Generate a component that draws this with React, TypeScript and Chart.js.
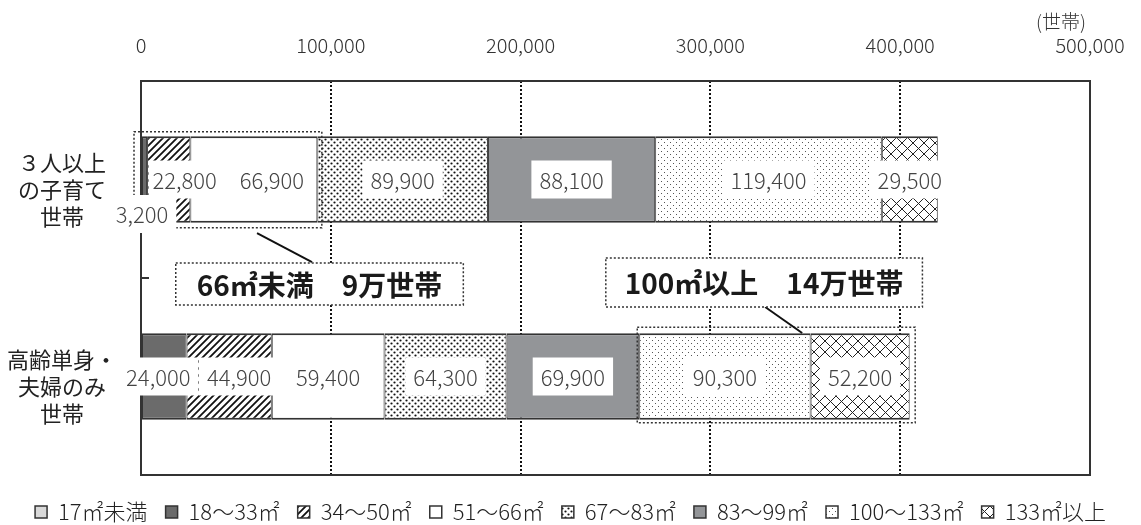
import React, { useEffect, useRef } from 'react';
import { Chart, registerables } from 'chart.js';

Chart.register(...registerables);

// ---------- data ----------
const categories = [
  ['３人以上', 'の子育て', '世帯'],
  ['高齢単身・', '夫婦のみ', '世帯'],
];
const seriesNames = ['17㎡未満', '18～33㎡', '34～50㎡', '51～66㎡', '67～83㎡', '83～99㎡', '100～133㎡', '133㎡以上'];
const under17 = [0, 0];
const s18to33 = [3200, 24000];
const s34to50 = [22800, 44900];
const s51to66 = [66900, 59400];
const s67to83 = [89900, 64300];
const s83to99 = [88100, 69900];
const s100to133 = [119400, 90300];
const over133 = [29500, 52200];
const xMin = 0;
const xMax = 500000;
const xStep = 100000;
const unitLabel = '(世帯)';
const callout1Text = '66㎡未満　9万世帯';
const callout2Text = '100㎡以上　14万世帯';

const FONT = '"Noto Sans CJK JP", "Noto Sans", sans-serif';

// ---------- patterns ----------
function makePattern(size: number, draw: (g: CanvasRenderingContext2D, s: number) => void): CanvasPattern | string {
  const c = document.createElement('canvas');
  c.width = size;
  c.height = size;
  const g = c.getContext('2d');
  if (!g) return '#fff';
  g.fillStyle = '#ffffff';
  g.fillRect(0, 0, size, size);
  draw(g, size);
  return g.createPattern(c, 'repeat') || '#fff';
}

function buildFills() {
  const hatch = makePattern(7, (g, s) => {
    g.strokeStyle = '#111';
    g.lineWidth = 1.8;
    g.beginPath();
    g.moveTo(-1, 1); g.lineTo(1, -1);
    g.moveTo(0, s); g.lineTo(s, 0);
    g.moveTo(s - 1, s + 1); g.lineTo(s + 1, s - 1);
    g.stroke();
  });
  const denseDots = makePattern(6, (g) => {
    g.fillStyle = '#111';
    g.beginPath(); g.arc(1.5, 1.5, 1.1, 0, Math.PI * 2); g.fill();
    g.beginPath(); g.arc(4.5, 4.5, 1.1, 0, Math.PI * 2); g.fill();
  });
  const lightDots = makePattern(6, (g) => {
    g.fillStyle = '#555';
    g.fillRect(1, 1, 1, 1);
    g.fillRect(4, 4, 1, 1);
  });
  const cross = makePattern(11, (g, s) => {
    g.strokeStyle = '#222';
    g.lineWidth = 1;
    g.beginPath();
    g.moveTo(-1, -1); g.lineTo(s + 1, s + 1);
    g.moveTo(-1, s + 1); g.lineTo(s + 1, -1);
    g.stroke();
  });
  return ['#d9d9d9', '#6b6b6b', hatch, '#ffffff', denseDots, '#939598', lightDots, cross];
}

// ---------- annotation styling ----------
const labelOffsets: Record<string, { dx?: number; dy?: number; padL?: number; padR?: number }> = {
  '1-0': { dx: -2.5, dy: 34.5 },
  '2-0': { dx: 16, padL: 4 },
  '3-0': { dx: 18 },
  '1-1': { dx: -6 },
  '2-1': { dx: 10 },
};

const groupRects = [
  { index: 0, datasets: [1, 2, 3], m: { l: 8, r: 4.5, t: 4.5, b: 5 } },
  { index: 1, datasets: [6, 7], m: { l: 2, r: 5.5, t: 6, b: 3 } },
];

const callouts = [
  { text: callout1Text, cx: 94070, cy: 0.53, padX: 21, h: 42, from: [61130, 0.272], to: [90120, 0.419] },
  { text: callout2Text, cx: 328300, cy: 0.523, padX: 19, h: 49, from: [328850, 0.647], to: [348350, 0.779] },
];

const overlayPlugin = {
  id: 'overlay',
  afterDatasetsDraw(chart: any) {
    const { ctx, chartArea: a, scales } = chart;
    const x = scales.x;
    const y = scales.y;
    ctx.save();

    // frame
    ctx.setLineDash([]);
    ctx.strokeStyle = '#333';
    ctx.lineWidth = 2;
    ctx.strokeRect(a.left, a.top, a.right - a.left, a.bottom - a.top);
    // category boundary tick
    const mid = (y.getPixelForValue(0) + y.getPixelForValue(1)) / 2;
    ctx.beginPath();
    ctx.moveTo(a.left, mid);
    ctx.lineTo(a.left + 8, mid);
    ctx.stroke();

    // dotted rectangles around groups
    ctx.setLineDash([2, 2]);
    ctx.lineWidth = 1.5;
    ctx.strokeStyle = '#333';
    groupRects.forEach((gr) => {
      let l = Infinity, r = -Infinity, t = Infinity, b = -Infinity;
      gr.datasets.forEach((d) => {
        const el = chart.getDatasetMeta(d).data[gr.index];
        const p = el.getProps(['x', 'y', 'base', 'height'], true);
        l = Math.min(l, p.base, p.x);
        r = Math.max(r, p.base, p.x);
        t = Math.min(t, p.y - p.height / 2);
        b = Math.max(b, p.y + p.height / 2);
      });
      ctx.strokeRect(l - gr.m.l, t - gr.m.t, r - l + gr.m.l + gr.m.r, b - t + gr.m.t + gr.m.b);
    });
    ctx.setLineDash([]);

    // value labels
    ctx.font = `300 22px ${FONT}`;
    ctx.textAlign = 'center';
    ctx.textBaseline = 'middle';
    const items: { tx: number; ty: number; text: string; w: number; padL: number; padR: number }[] = [];
    chart.data.datasets.forEach((ds: any, d: number) => {
      ds.data.forEach((v: number, j: number) => {
        if (!v) return;
        const el = chart.getDatasetMeta(d).data[j];
        const p = el.getProps(['x', 'y', 'base'], true);
        const o = labelOffsets[`${d}-${j}`] || {};
        const text = v.toLocaleString('en-US');
        const w = ctx.measureText(text).width;
        items.push({
          tx: (p.x + p.base) / 2 + (o.dx || 0),
          ty: p.y + (o.dy || 0),
          text,
          w,
          padL: o.padL ?? 8,
          padR: o.padR ?? 8,
        });
      });
    });
    ctx.fillStyle = '#ffffff';
    items.forEach((it) => {
      ctx.fillRect(it.tx - it.w / 2 - it.padL, it.ty - 19, it.w + it.padL + it.padR, 38);
    });
    ctx.fillStyle = '#444';
    items.forEach((it) => {
      ctx.fillText(it.text, it.tx, it.ty + 1);
    });

    // callouts
    callouts.forEach((c) => {
      ctx.font = `bold 28px ${FONT}`;
      const tw = ctx.measureText(c.text).width;
      const cx = x.getPixelForValue(c.cx);
      const cy = y.getPixelForValue(c.cy);
      const bw = tw + c.padX * 2;
      // leader line
      ctx.strokeStyle = '#111';
      ctx.lineWidth = 2;
      ctx.setLineDash([]);
      ctx.beginPath();
      ctx.moveTo(x.getPixelForValue(c.from[0]), y.getPixelForValue(c.from[1]));
      ctx.lineTo(x.getPixelForValue(c.to[0]), y.getPixelForValue(c.to[1]));
      ctx.stroke();
      ctx.fillStyle = '#fff';
      ctx.fillRect(cx - bw / 2, cy - c.h / 2, bw, c.h);
      ctx.setLineDash([2, 2]);
      ctx.lineWidth = 1.5;
      ctx.strokeStyle = '#333';
      ctx.strokeRect(cx - bw / 2, cy - c.h / 2, bw, c.h);
      ctx.setLineDash([]);
      ctx.fillStyle = '#1a1a1a';
      ctx.textAlign = 'center';
      ctx.textBaseline = 'middle';
      ctx.fillText(c.text, cx, cy + 1);
    });

    // unit label
    ctx.font = `300 19px ${FONT}`;
    ctx.fillStyle = '#333';
    ctx.textAlign = 'center';
    ctx.textBaseline = 'middle';
    ctx.fillText(unitLabel, x.getPixelForValue(xMax) - 29, 22);

    ctx.restore();
  },
};

export default function App() {
  const canvasRef = useRef<HTMLCanvasElement | null>(null);

  useEffect(() => {
    if (!canvasRef.current) return;
    const fills = buildFills();
    const seriesValues = [under17, s18to33, s34to50, s51to66, s67to83, s83to99, s100to133, over133];
    const chart = new Chart(canvasRef.current, {
      type: 'bar',
      data: {
        labels: categories as any,
        datasets: seriesNames.map((name, i) => ({
          label: name,
          data: seriesValues[i],
          backgroundColor: fills[i] as any,
          borderColor: '#333',
          borderWidth: { top: 2, bottom: 2, left: 1, right: 1 } as any,
          borderSkipped: false,
          barPercentage: 0.44,
          categoryPercentage: 1,
        })),
      },
      options: {
        indexAxis: 'y',
        animation: false,
        responsive: true,
        maintainAspectRatio: false,
        layout: { padding: { top: 0, right: 0, left: 0, bottom: -8 } },
        scales: {
          x: {
            type: 'linear',
            position: 'top',
            stacked: true,
            min: xMin,
            max: xMax,
            afterFit: (s: any) => { s.height = 81; },
            ticks: {
              stepSize: xStep,
              padding: 0,
              color: '#333',
              font: { size: 20, family: FONT, weight: '300' as any, lineHeight: 3.6 },
              callback: (v: any) => Number(v).toLocaleString('en-US'),
            },
            grid: {
              drawTicks: false,
              lineWidth: 2,
              color: (c: any) => (c.tick && (c.tick.value === xMin || c.tick.value === xMax) ? 'rgba(0,0,0,0)' : '#111'),
            },
            border: { display: false, dash: [2, 2] },
          },
          y: {
            stacked: true,
            afterFit: (s: any) => { s.width = 141; s.paddingTop = 0; s.paddingBottom = 0; },
            ticks: {
              color: '#222',
              crossAlign: 'center',
              padding: 24,
              labelOffset: 10,
              font: { size: 22, family: FONT, lineHeight: 1.22 },
            },
            grid: { display: false, drawTicks: false },
            border: { display: false },
          },
          yRight: {
            type: 'category',
            position: 'right',
            labels: categories as any,
            afterFit: (s: any) => { s.width = 51; s.paddingTop = 0; s.paddingBottom = 0; },
            ticks: { display: false },
            grid: { display: false, drawTicks: false },
            border: { display: false },
          },
        },
        plugins: {
          legend: {
            position: 'bottom',
            title: { display: true, text: ' ', padding: 0, font: { size: 8, lineHeight: 1 } },
            labels: {
              boxWidth: 12,
              boxHeight: 12,
              padding: 18,
              color: '#222',
              font: { size: 22, family: FONT, weight: '300' as any },
            },
          },
          tooltip: { enabled: false },
        },
      },
      plugins: [overlayPlugin],
    });
    return () => chart.destroy();
  }, []);

  return (
    <div style={{ position: 'absolute', left: 0, top: 0, width: 1141, height: 525, background: '#fff' }}>
      <canvas ref={canvasRef} />
    </div>
  );
}
